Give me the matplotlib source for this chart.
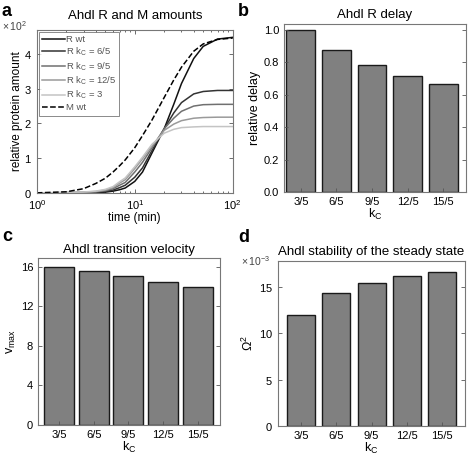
import numpy as np
import matplotlib
matplotlib.use("Agg")
import matplotlib.pyplot as plt
from matplotlib.ticker import ScalarFormatter

plt.rcParams['font.family'] = ['Liberation Sans', 'DejaVu Sans']
plt.rcParams['mathtext.fontset'] = 'custom'
plt.rcParams['mathtext.rm'] = 'Liberation Sans'
plt.rcParams['mathtext.it'] = 'Liberation Sans'

# panel a: time courses
t = [1, 2, 3, 4, 5, 6, 7, 8, 10, 12, 15, 20, 25, 30, 40, 50, 70, 100]
r_wt = [0, 0, 0.5, 1, 2, 5, 9, 14, 33, 60, 115, 185, 255, 315, 387, 422, 443, 448]
r_65 = [0, 0.5, 1, 2, 4, 8, 15, 22, 45, 72, 122, 185, 230, 260, 285, 292, 295, 295]
r_95 = [0, 0.5, 1.5, 3, 6, 12, 22, 30, 60, 88, 130, 185, 215, 235, 250, 254, 255, 255]
r_125 = [0, 0.5, 2, 4, 8, 15, 28, 38, 70, 98, 135, 180, 198, 208, 215, 217, 218, 218]
r_3 = [0, 1, 2.5, 5, 10, 18, 32, 43, 75, 103, 140, 172, 183, 188, 190, 191, 191, 191]
m_wt = [0, 3, 12, 27, 42, 60, 78, 95, 130, 165, 210, 275, 325, 362, 408, 429, 442, 446]

curves = [r_wt, r_65, r_95, r_125, r_3]
curve_labels = ['R wt', 'R k$_C$ = 6/5', 'R k$_C$ = 9/5', 'R k$_C$ = 12/5', 'R k$_C$ = 3']
curve_colors = ['#111111', '#333333', '#707070', '#9a9a9a', '#c4c4c4']

# panels b-d
kc_labels = ['3/5', '6/5', '9/5', '12/5', '15/5']
delay = [1.0, 0.875, 0.785, 0.715, 0.665]
vmax = [16.0, 15.55, 15.0, 14.4, 13.9]
omega2 = [12.0e-3, 14.3e-3, 15.45e-3, 16.15e-3, 16.65e-3]

fig = plt.figure(figsize=(4.72, 4.57), dpi=100)

tick_kw = dict(direction='in', top=True, right=True, labelsize=8, length=3, width=0.6, color='#555555')


def style(ax):
    for s in ax.spines.values():
        s.set_color('#777777')
        s.set_linewidth(0.8)
    ax.tick_params(which='both', **tick_kw)
    ax.tick_params(which='minor', length=1.5)


def sci_axis(ax, power, xoff, yoff):
    # fixed exponent, label drawn beside the top of the axis like matlab does
    f = ScalarFormatter(useMathText=True)
    f.set_powerlimits((power, power))
    ax.yaxis.set_major_formatter(f)
    ax.yaxis.get_offset_text().set_visible(False)
    ax.text(xoff, yoff, '$\\times\\,10^{%d}$' % power, transform=ax.transAxes,
            fontsize=7.5, color='#444444', ha='left', va='center')


# a
ax = fig.add_axes([0.078, 0.578, 0.415, 0.357])
for y, lab, c in zip(curves, curve_labels, curve_colors):
    ax.plot(t, y, color=c, lw=1.1, label=lab)
ax.plot(t, m_wt, 'k--', lw=1.1, label='M wt')
ax.set_xscale('log')
ax.set_xlim(1, 100)
ax.set_ylim(0, 470)
ax.set_yticks([0, 100, 200, 300, 400])
sci_axis(ax, 2, -0.18, 1.02)
ax.set_xlabel('time (min)', fontsize=8.5, labelpad=0)
ax.set_ylabel('relative protein amount', fontsize=8.5, labelpad=1)
ax.set_title('Ahdl R and M amounts', fontsize=9.5, pad=8)
leg = ax.legend(loc='upper left', fontsize=6.8, frameon=True, fancybox=False,
                handlelength=2.4, handletextpad=0.1, labelspacing=0.2,
                borderpad=0.35, borderaxespad=0.2, labelcolor='#555555')
leg.get_frame().set_edgecolor('#555555')
leg.get_frame().set_linewidth(0.6)
style(ax)
ax.tick_params(axis='x', pad=4)


def bars(rect, values, ylim, yticks, ylabel, title, xlim, width, power=None):
    ax = fig.add_axes(rect)
    x = np.arange(len(kc_labels))
    ax.bar(x, values, width=width, color='#808080', edgecolor='#1a1a1a', linewidth=1.0)
    ax.set_xticks(x)
    ax.set_xticklabels(kc_labels)
    ax.set_xlim(*xlim)
    ax.set_ylim(*ylim)
    ax.set_yticks(yticks)
    if power is not None:
        sci_axis(ax, power, -0.2, 1.0)
    ax.set_xlabel('k$_C$', fontsize=9, labelpad=0)
    ax.set_ylabel(ylabel, fontsize=9, labelpad=2)
    ax.set_title(title, fontsize=9.5, pad=4)
    style(ax)
    ax.tick_params(top=False, which='both')
    return ax


bars([0.602, 0.580, 0.385, 0.368], delay, (0, 1.037), [0, 0.2, 0.4, 0.6, 0.8, 1.0],
     'relative delay', 'Ahdl R delay', (-0.47, 4.64), 0.81)
bars([0.0805, 0.070, 0.386, 0.365], vmax, (0, 16.84), [0, 4, 8, 12, 16],
     'v$_{max}$', 'Ahdl transition velocity', (-0.6, 4.64), 0.86)
bars([0.589, 0.068, 0.396, 0.361], omega2, (0, 17.8e-3), [0, 5e-3, 10e-3, 15e-3],
     '$\\Omega^2$', 'Ahdl stability of the steady state', (-0.65, 4.64), 0.8, power=-3)

for lab, (x, y) in zip('abcd', [(0.004, 0.966), (0.503, 0.966), (0.004, 0.472), (0.505, 0.470)]):
    fig.text(x, y, lab, fontsize=13, fontweight='bold')

fig.savefig('out.png', dpi=100)
